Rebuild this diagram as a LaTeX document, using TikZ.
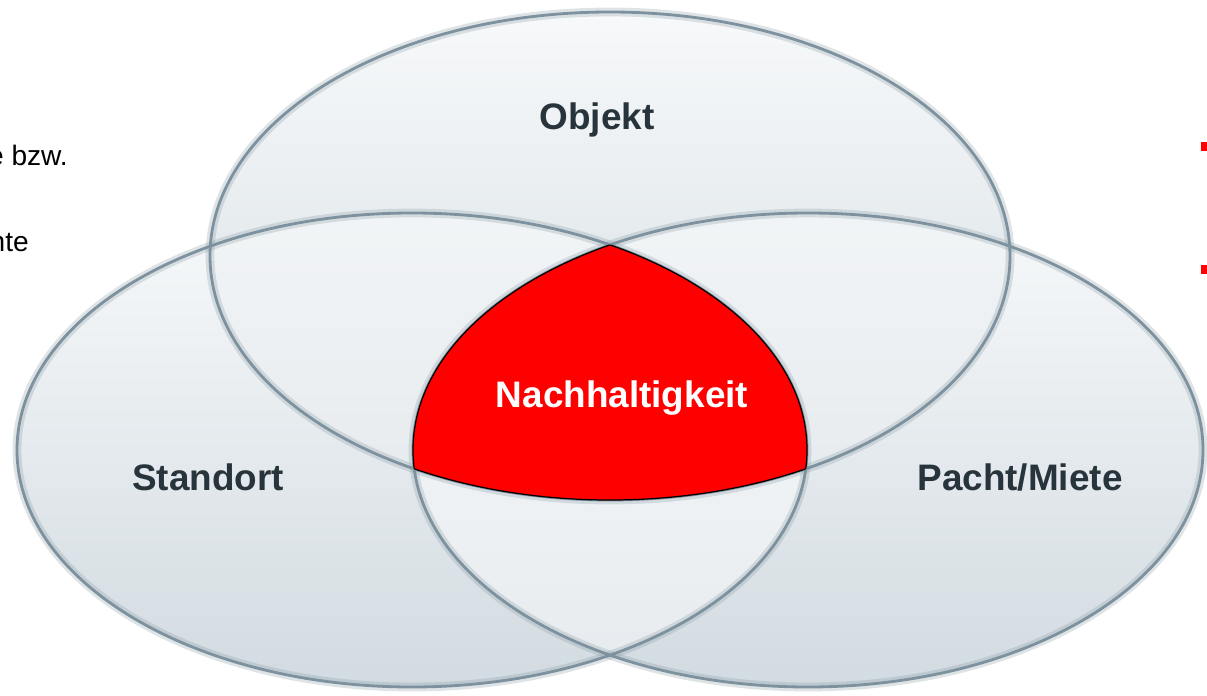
\documentclass[tikz,border=0pt]{standalone}
\usepackage{fontspec}
\setmainfont{Liberation Sans}
\usetikzlibrary{positioning}

\definecolor{rimgray}{RGB}{125,146,158}
\definecolor{fillhi}{RGB}{247,249,250}
\definecolor{filllo}{RGB}{210,219,225}
\definecolor{labelgray}{RGB}{40,52,60}

\tikzset{
  bubble/.style={top color=fillhi, bottom color=filllo},
  lens/.style={fill=white, fill opacity=0.45},
  rim/.style={draw=rimgray, line width=1.6pt},
  rimshade/.style={draw=rimgray, line width=5pt, opacity=0.25},
  corerim/.style={draw=black, line width=0.7pt},
  setlabel/.style={font=\fontsize{21}{25}\selectfont\bfseries, text=labelgray, anchor=base},
  sidetext/.style={font=\fontsize{16}{19}\selectfont, anchor=base east}
}

\begin{document}
\begin{tikzpicture}[x=0.02cm, y=-0.02cm]
\useasboundingbox (0,0) rectangle (1207,696);
\fill[white] (0,0) rectangle (1207,696);

% the three sets
\fill[bubble] (412,450) ellipse [x radius=395, y radius=237];
\fill[bubble] (808,450) ellipse [x radius=395, y radius=237];
\fill[bubble] (610,256) ellipse [x radius=400, y radius=244];

% lighter overlaps
\begin{scope}
\clip (610,256) ellipse [x radius=400, y radius=244];
\fill[lens] (412,450) ellipse [x radius=395, y radius=237];
\fill[lens] (808,450) ellipse [x radius=395, y radius=237];
\end{scope}
\begin{scope}
\clip (412,450) ellipse [x radius=395, y radius=237];
\fill[lens] (808,450) ellipse [x radius=395, y radius=237];
\end{scope}

\draw[rimshade] (412,450) ellipse [x radius=395, y radius=237];
\draw[rimshade] (808,450) ellipse [x radius=395, y radius=237];
\draw[rimshade] (610,256) ellipse [x radius=400, y radius=244];
\draw[rim] (412,450) ellipse [x radius=395, y radius=237];
\draw[rim] (808,450) ellipse [x radius=395, y radius=237];
\draw[rim] (610,256) ellipse [x radius=400, y radius=244];

% common part of all three
\begin{scope}
\clip (610,256) ellipse [x radius=400, y radius=244];
\clip (412,450) ellipse [x radius=395, y radius=237];
\fill[red] (808,450) ellipse [x radius=395, y radius=237];
\draw[corerim] (808,450) ellipse [x radius=395, y radius=237];
\end{scope}
\begin{scope}
\clip (610,256) ellipse [x radius=400, y radius=244];
\clip (808,450) ellipse [x radius=395, y radius=237];
\draw[corerim] (412,450) ellipse [x radius=395, y radius=237];
\end{scope}
\begin{scope}
\clip (412,450) ellipse [x radius=395, y radius=237];
\clip (808,450) ellipse [x radius=395, y radius=237];
\draw[corerim] (610,256) ellipse [x radius=400, y radius=244];
\end{scope}

\node[setlabel] (objekt) at (597,130) {Objekt};
\node[setlabel] (standort) at (208,490) {Standort};
\node[setlabel] (pacht) at (1020,490) {Pacht/Miete};
\node[setlabel, text=white] (nachhaltigkeit) at (622,407) {Nachhaltigkeit};

% cut-off text at the sides
\node[sidetext] (bzw) at (74,166) {e bzw.};
\node[sidetext] (nte) at (35,251) {nte};
\fill[red] (1201,142) rectangle (1207,151);
\fill[red] (1201,265) rectangle (1207,274);
\end{tikzpicture}
\end{document}
